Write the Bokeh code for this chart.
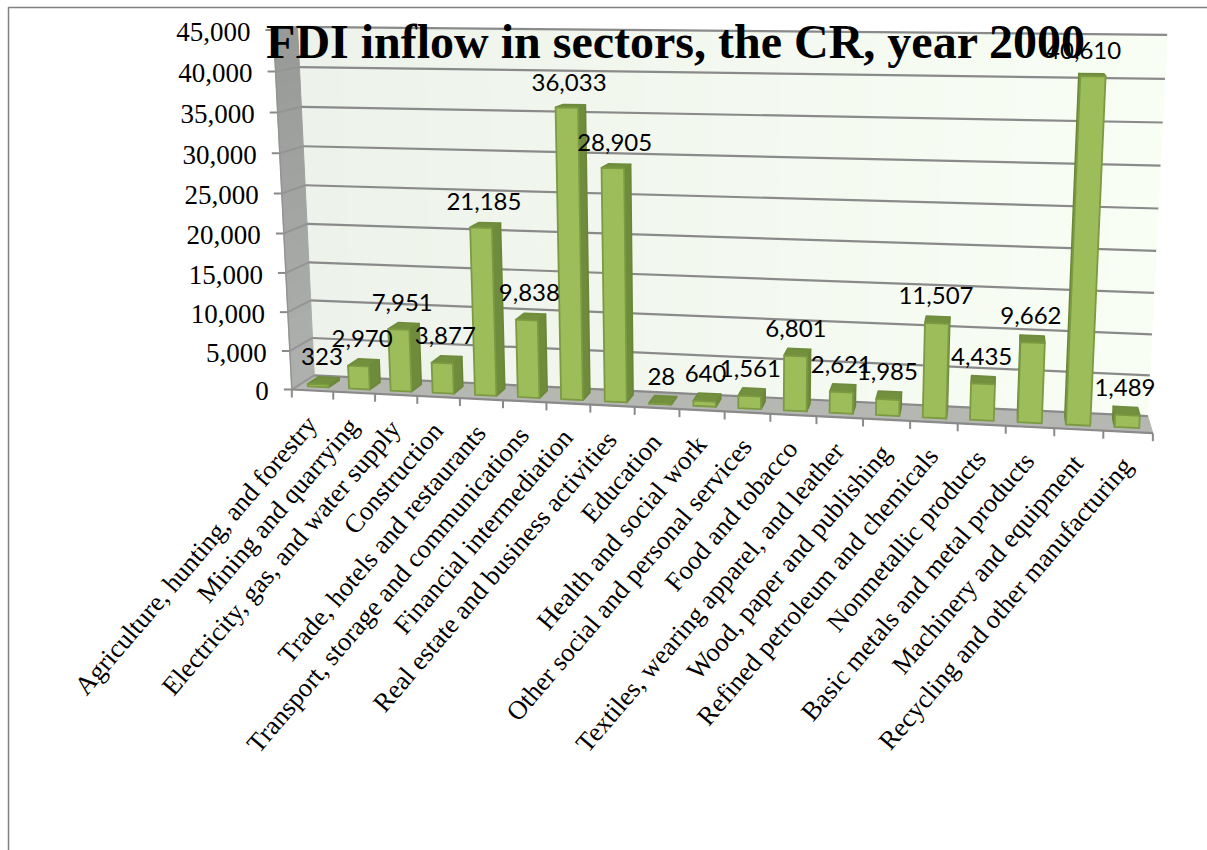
import numpy as np
from bokeh.plotting import figure
from bokeh.core.properties import value
from bokeh.embed import file_html
from bokeh.resources import INLINE

# FDI inflow by sector
categories = [
    "Agriculture, hunting, and forestry", "Mining and quarrying",
    "Electricity, gas, and water supply", "Construction",
    "Trade, hotels and restaurants", "Transport, storage and communications",
    "Financial intermediation", "Real estate and business activities",
    "Education", "Health and social work", "Other social and personal services",
    "Food and tobacco", "Textiles, wearing apparel, and leather",
    "Wood, paper and publishing", "Refined petroleum and chemicals",
    "Nonmetallic products", "Basic metals and metal products",
    "Machinery and equipment", "Recycling and other manufacturing",
]
inflow = [323, 2970, 7951, 3877, 21185, 9838, 36033, 28905, 28, 640, 1561,
          6801, 2621, 1985, 11507, 4435, 9662, 40610, 1489]
value_ticks = [0, 5000, 10000, 15000, 20000, 25000, 30000, 35000, 40000, 45000]
chart_title = "FDI inflow in sectors, the CR, year 2000"

W, H = 1207, 850
N = len(categories)
VMAX = value_ticks[-1]

# Perspective camera for the 3-D box: (slot, value, depth) to page pixels.
camera_fit = [
    ((0, 0, 0), (292, 389)), ((0, VMAX, 0), (273, 29)),
    ((0, 0, 1), (313, 375)), ((0, VMAX, 1), (297, 27)),
    ((N, 0, 0), (1152, 433)), ((N, 0, 1), (1147, 415)),
    ((N, VMAX, 1), (1166, 34)), ((0, 20000, 0), (283, 233)),
    ((0, 20000, 1), (307, 223)), ((N, 20000, 1), (1157, 251)),
]


def fit_camera(pairs):
    rows = []
    for (u, v, w), (x, y) in pairs:
        v = v / VMAX
        X = [u / N, v, w, 1]
        rows.append(X + [0, 0, 0, 0] + [-x / W * c for c in X])
        rows.append([0, 0, 0, 0] + X + [-y / H * c for c in X])
    return np.linalg.svd(np.array(rows))[2][-1].reshape(3, 4)


CAM = fit_camera(camera_fit)


def proj(u, v, w):
    """Project one 3-D point; y comes back measured upward for the figure."""
    q = CAM @ np.array([u / N, v / VMAX, w, 1.0])
    return q[0] / q[2] * W, H - q[1] / q[2] * H


def poly(points):
    pts = [proj(*p) for p in points]
    return [a for a, _ in pts], [b for _, b in pts]


def lerp_hex(c0, c1, t):
    a = [int(c0[i:i + 2], 16) for i in (1, 3, 5)]
    b = [int(c1[i:i + 2], 16) for i in (1, 3, 5)]
    return "#%02x%02x%02x" % tuple(round(x + (y - x) * t) for x, y in zip(a, b))


p = figure(width=W, height=H, x_range=(0, W), y_range=(0, H),
           output_backend="svg", toolbar_location=None, min_border=0,
           background_fill_color="white", border_fill_color="white")
p.axis.visible = False
p.grid.visible = False
p.outline_line_color = None

# Frame around the chart area
p.line([8, 8, W], [0, H - 7, H - 7], line_color="#808080", line_width=1.5)

# Back wall, shaded from left to right
STEPS = 38
for i in range(STEPS):
    u0, u1 = N * i / STEPS, N * (i + 1) / STEPS
    xs, ys = poly([(u0, 0, 1), (u1, 0, 1), (u1, VMAX, 1), (u0, VMAX, 1)])
    c = lerp_hex("#edf2ea", "#f9fef5", i / (STEPS - 1))
    p.patch(xs, ys, fill_color=c, line_color=c, line_width=1)

# Side wall, darker toward the top
for i in range(20):
    v0, v1 = VMAX * i / 20, VMAX * (i + 1) / 20
    xs, ys = poly([(0, v0, 0), (0, v0, 1), (0, v1, 1), (0, v1, 0)])
    c = lerp_hex("#aeb0ad", "#989a98", i / 19)
    p.patch(xs, ys, fill_color=c, line_color=c, line_width=1)

# Floor
xs, ys = poly([(0, 0, 0), (N, 0, 0), (N, 0, 1), (0, 0, 1)])
p.patch(xs, ys, fill_color="#b5b7b2", line_color="#b5b7b2", line_width=1)

# Gridlines on the back and side walls, plus the value ticks
for t in value_ticks:
    xs, ys = poly([(0, t, 1), (N, t, 1)])
    p.line(xs, ys, line_color="#8a8a8a", line_width=2.2)
    xs, ys = poly([(0, t, 0), (0, t, 1)])
    p.line(xs, ys, line_color="#949494", line_width=2)
    x0, y0 = proj(0, t, 0)
    p.line([x0 - 8, x0], [y0, y0], line_color="#8a8a8a", line_width=2)
    p.text([x0 - 23], [y0 - 2], text=[f"{t:,}"], text_align="right",
           text_baseline="middle", text_font=value("Liberation Serif"),
           text_font_size="27px", text_color="#000000")

# Floor edge and category ticks
xs, ys = poly([(0, 0, 0), (N, 0, 0)])
p.line(xs, ys, line_color="#8a8a8a", line_width=2.2)
xs, ys = poly([(0, 0, 0), (0, VMAX, 0)])
p.line(xs, ys, line_color="#949494", line_width=1.5)
for k in range(N + 1):
    x0, y0 = proj(k, 0, 0)
    p.line([x0, x0], [y0, y0 - 8], line_color="#8a8a8a", line_width=2)

# Bars: only the faces turned toward the camera are painted
BAR_U, BAR_W = (0.25, 0.75), (0.25, 0.75)


def area(xs, ys):
    return 0.5 * sum(xs[i] * ys[(i + 1) % len(xs)] - xs[(i + 1) % len(xs)] * ys[i]
                     for i in range(len(xs)))


for k, val in enumerate(inflow):
    u0, u1 = k + BAR_U[0], k + BAR_U[1]
    w0, w1 = BAR_W
    faces = [
        ([(u0, 0, w1), (u0, 0, w0), (u0, val, w0), (u0, val, w1)], "#6f8c3c", "#6a8738"),
        ([(u1, 0, w0), (u1, 0, w1), (u1, val, w1), (u1, val, w0)], "#6f8c3c", "#6a8738"),
        ([(u0, val, w0), (u1, val, w0), (u1, val, w1), (u0, val, w1)], "#72903d", "#6f8c3c"),
        ([(u0, 0, w0), (u1, 0, w0), (u1, val, w0), (u0, val, w0)], "#9cbd5a", "#7b9a42"),
    ]
    for pts, fill, edge in faces:
        xs, ys = poly(pts)
        if area(xs, ys) > 0:
            p.patch(xs, ys, fill_color=fill, line_color=edge, line_width=1.8,
                    line_join="round")

# Value labels above each bar; the tallest one sits a little to the left
label_shift = {17: -7}
for k, val in enumerate(inflow):
    x0, y0 = proj(k + 0.5, val, 0.5)
    p.text([x0 - 1.5 + label_shift.get(k, 0)], [y0 + 24], text=[f"{val:,}"],
           text_align="center", text_baseline="middle", text_font=value("Lato"),
           text_font_size="24px", text_color="#000000")

# Slanted category names
for k, name in enumerate(categories):
    x0, y0 = proj(k + 0.5, 0, 0)
    p.text([x0 - 1], [y0 - 29], text=[name], text_align="right",
           text_baseline="middle", angle=49.5, angle_units="deg",
           text_font=value("Liberation Serif"), text_font_size="26.5px",
           text_color="#000000")

# Chart title
p.text([675.5], [H - 41], text=[chart_title], text_align="center",
       text_baseline="middle", text_font=value("Liberation Serif"),
       text_font_style="bold", text_font_size="48px", text_color="#000000")

open("out.html", "w").write(file_html(p, INLINE))
